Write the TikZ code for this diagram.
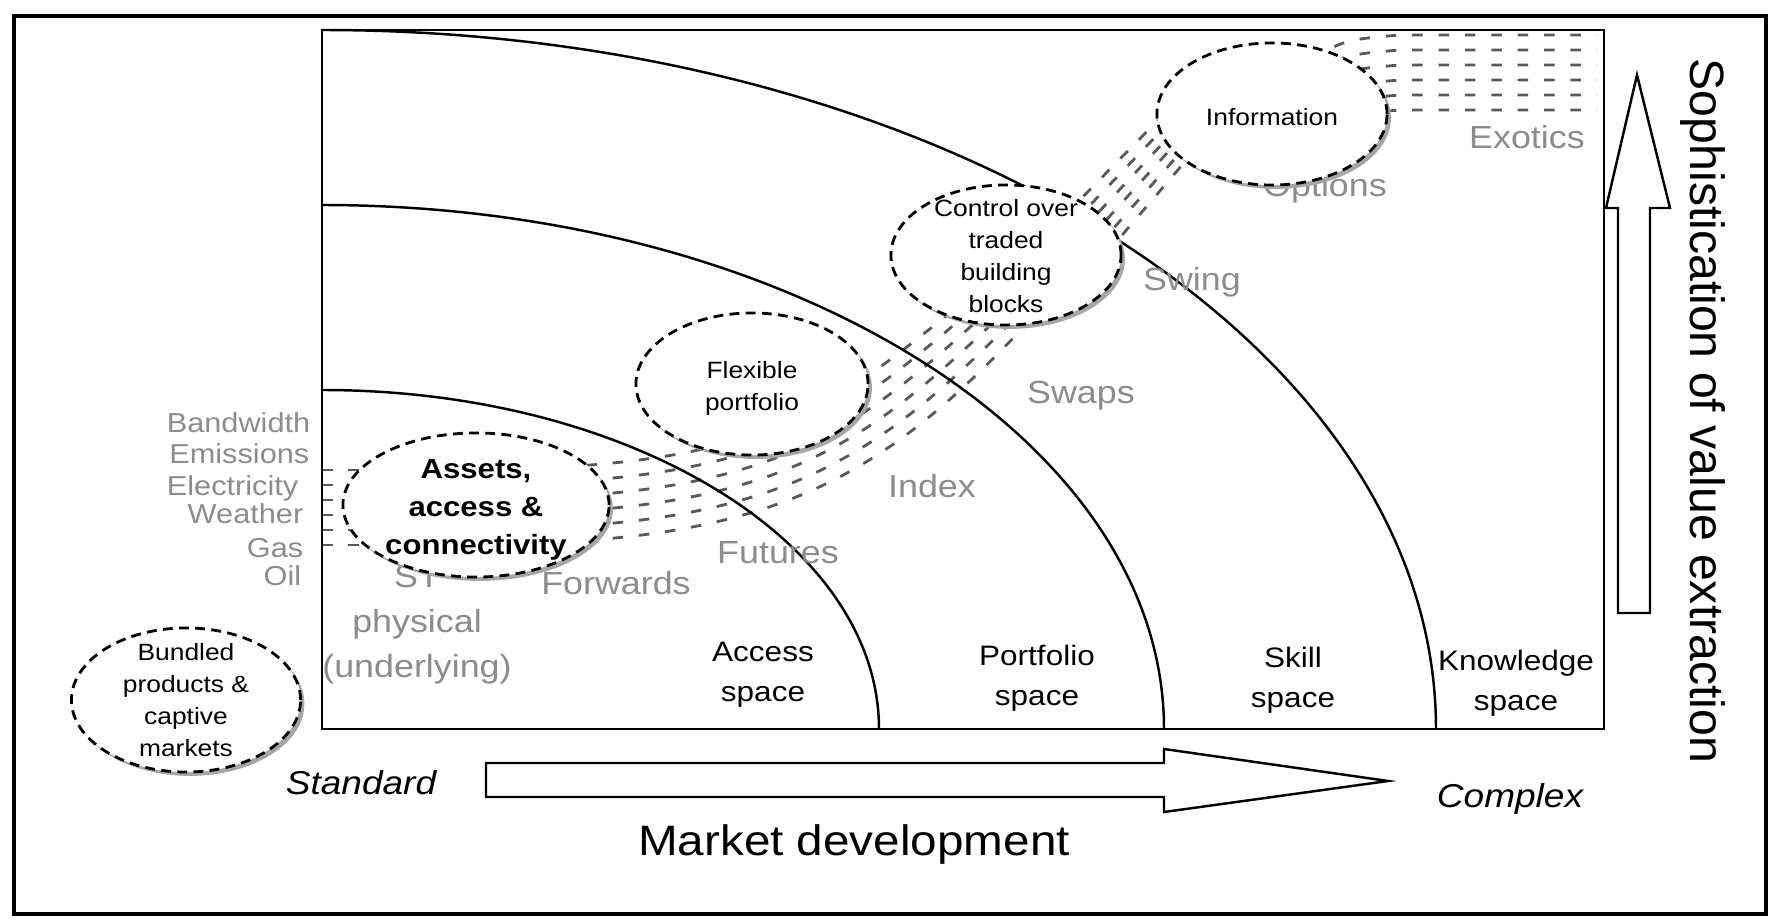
\documentclass[tikz,border=0pt]{standalone}
\usepackage{fontspec}
\setmainfont{Liberation Sans}[FakeStretch=1.12]
\newfontfamily\plainsans{Liberation Sans}
\usetikzlibrary{shapes.geometric,shadows}
\begin{document}
    \begin{tikzpicture}[x=0.01cm,y=-0.01cm,
        bubble/.style={ellipse,draw,fill=white,line width=0.8pt,dash pattern=on 2.8pt off 1.8pt,inner sep=0pt,
            drop shadow={shadow xshift=1.1pt,shadow yshift=-1.1pt,fill=black!35,opacity=1}},
        bubbletxt/.style={align=center,font=\fontsize{6.7}{9.1}\selectfont},
        boldtxt/.style={align=center,font=\fontsize{7.9}{10.8}\selectfont\bfseries},
        spacelbl/.style={align=center,font=\fontsize{8}{11.4}\selectfont},
        prodlbl/.style={text=black!45,font=\fontsize{9.1}{12.8}\selectfont,align=center,inner sep=0pt},
        marketlbl/.style={text=black!45,font=\fontsize{7.8}{9}\selectfont,anchor=base east,inner sep=0pt},
        bandrow/.style={black!65,line width=0.8pt,dash pattern=on 3pt off 4.5pt},
        endlbl/.style={font=\fontsize{9.4}{11}\selectfont\itshape,anchor=base}]
        \useasboundingbox (0,0) rectangle (1771,924);
        \draw[line width=0.9pt] (14,16) rectangle (1766,914);
        \foreach \i in {0,...,5}{
            \draw[bandrow] (322,{470+15*\i}) -- (470,{470+15*\i});
            \draw[bandrow] (560,{467+15*\i}) .. controls ({780+4*\i},{455+15*\i}) and ({840+12*\i},{400+12*\i}) .. ({960+15*\i},{305+2*\i});
            \draw[bandrow] ({1065+8*\i},{215+8*\i}) -- ({1170+5*\i},{108+8.4*\i});
            \draw[bandrow] (1290,{75+15*\i}) .. controls (1340,{40+15*\i}) .. (1400,{35+15*\i}) -- (1597,{35+15*\i});
        }
        \draw[line width=0.7pt] (322,390) .. controls (630,390) and (879,542) .. (879,729);
        \draw[line width=0.7pt] (322,205) .. controls (787,205) and (1164,440) .. (1164,729);
        \draw[line width=0.7pt] (322,30) .. controls (937,30) and (1436,343) .. (1436,729);
        \draw[line width=0.8pt] (322,30) rectangle (1604,729);
        \node[marketlbl] (bandwidth) at (311,432) {Bandwidth};
        \node[marketlbl] (emissions) at (310,463) {Emissions};
        \node[marketlbl] (electricity) at (299,495) {Electricity};
        \node[marketlbl] (weather) at (304,523) {Weather};
        \node[marketlbl] (gas) at (304,557) {Gas};
        \node[marketlbl] (oil) at (302,585) {Oil};
        \node[prodlbl] (st) at (417,625) {ST\\physical\\(underlying)};
        \node[prodlbl,anchor=base] (forwards) at (616,594) {Forwards};
        \node[prodlbl,anchor=base] (futures) at (778,563) {Futures};
        \node[prodlbl,anchor=base] (index) at (932,498) {Index};
        \node[prodlbl,anchor=base] (swaps) at (1081,403) {Swaps};
        \node[prodlbl,anchor=base] (swing) at (1192,291) {Swing};
        \node[prodlbl,anchor=base] (options) at (1325,196) {Options};
        \node[prodlbl,anchor=base] (exotics) at (1527,148) {Exotics};
        \node[bubble,minimum width=2.29cm,minimum height=1.44cm] (bundled) at (186,700) {};
        \node[bubble,minimum width=2.66cm,minimum height=1.44cm] (assets) at (476,505) {};
        \node[bubble,minimum width=2.32cm,minimum height=1.42cm] (flexible) at (752,384) {};
        \node[bubble,minimum width=2.30cm,minimum height=1.40cm] (control) at (1006,255) {};
        \node[bubble,minimum width=2.30cm,minimum height=1.42cm] (info) at (1272,114) {};
        \node[bubbletxt] (bundledtxt) at (bundled) {Bundled\\products \&\\captive\\markets};
        \node[boldtxt] (assetstxt) at (476,510) {Assets,\\access \&\\connectivity};
        \node[bubbletxt] (flexibletxt) at (752,388) {Flexible\\portfolio};
        \node[bubbletxt] (controltxt) at (1006,256) {Control over\\traded\\building\\blocks};
        \node[bubbletxt] (infotxt) at (1272,117) {Information};
        \node[spacelbl] (access) at (763,675) {Access\\space};
        \node[spacelbl] (portfolio) at (1037,678) {Portfolio\\space};
        \node[spacelbl] (skill) at (1293,680) {Skill\\space};
        \node[spacelbl] (knowledge) at (1516,683) {Knowledge\\space};
        \node[endlbl] (standard) at (361,794) {Standard};
        \node[endlbl] (complex) at (1510,807) {Complex};
        \node[font=\fontsize{12.1}{14}\selectfont,anchor=base] (marketdev) at (854,855) {Market development};
        \node[font=\plainsans\fontsize{13.7}{16}\selectfont,rotate=-90] (sophist) at (1703,411) {Sophistication of value extraction};
        \draw[line width=0.7pt,fill=white] (486,763) -- (1164,763) -- (1164,749) -- (1388,781) -- (1164,812) -- (1164,797) -- (486,797) -- cycle;
        \draw[line width=0.7pt,fill=white] (1618,613) -- (1618,208) -- (1606,208) -- (1637,75) -- (1670,208) -- (1650,208) -- (1650,613) -- cycle;
    \end{tikzpicture}
\end{document}
